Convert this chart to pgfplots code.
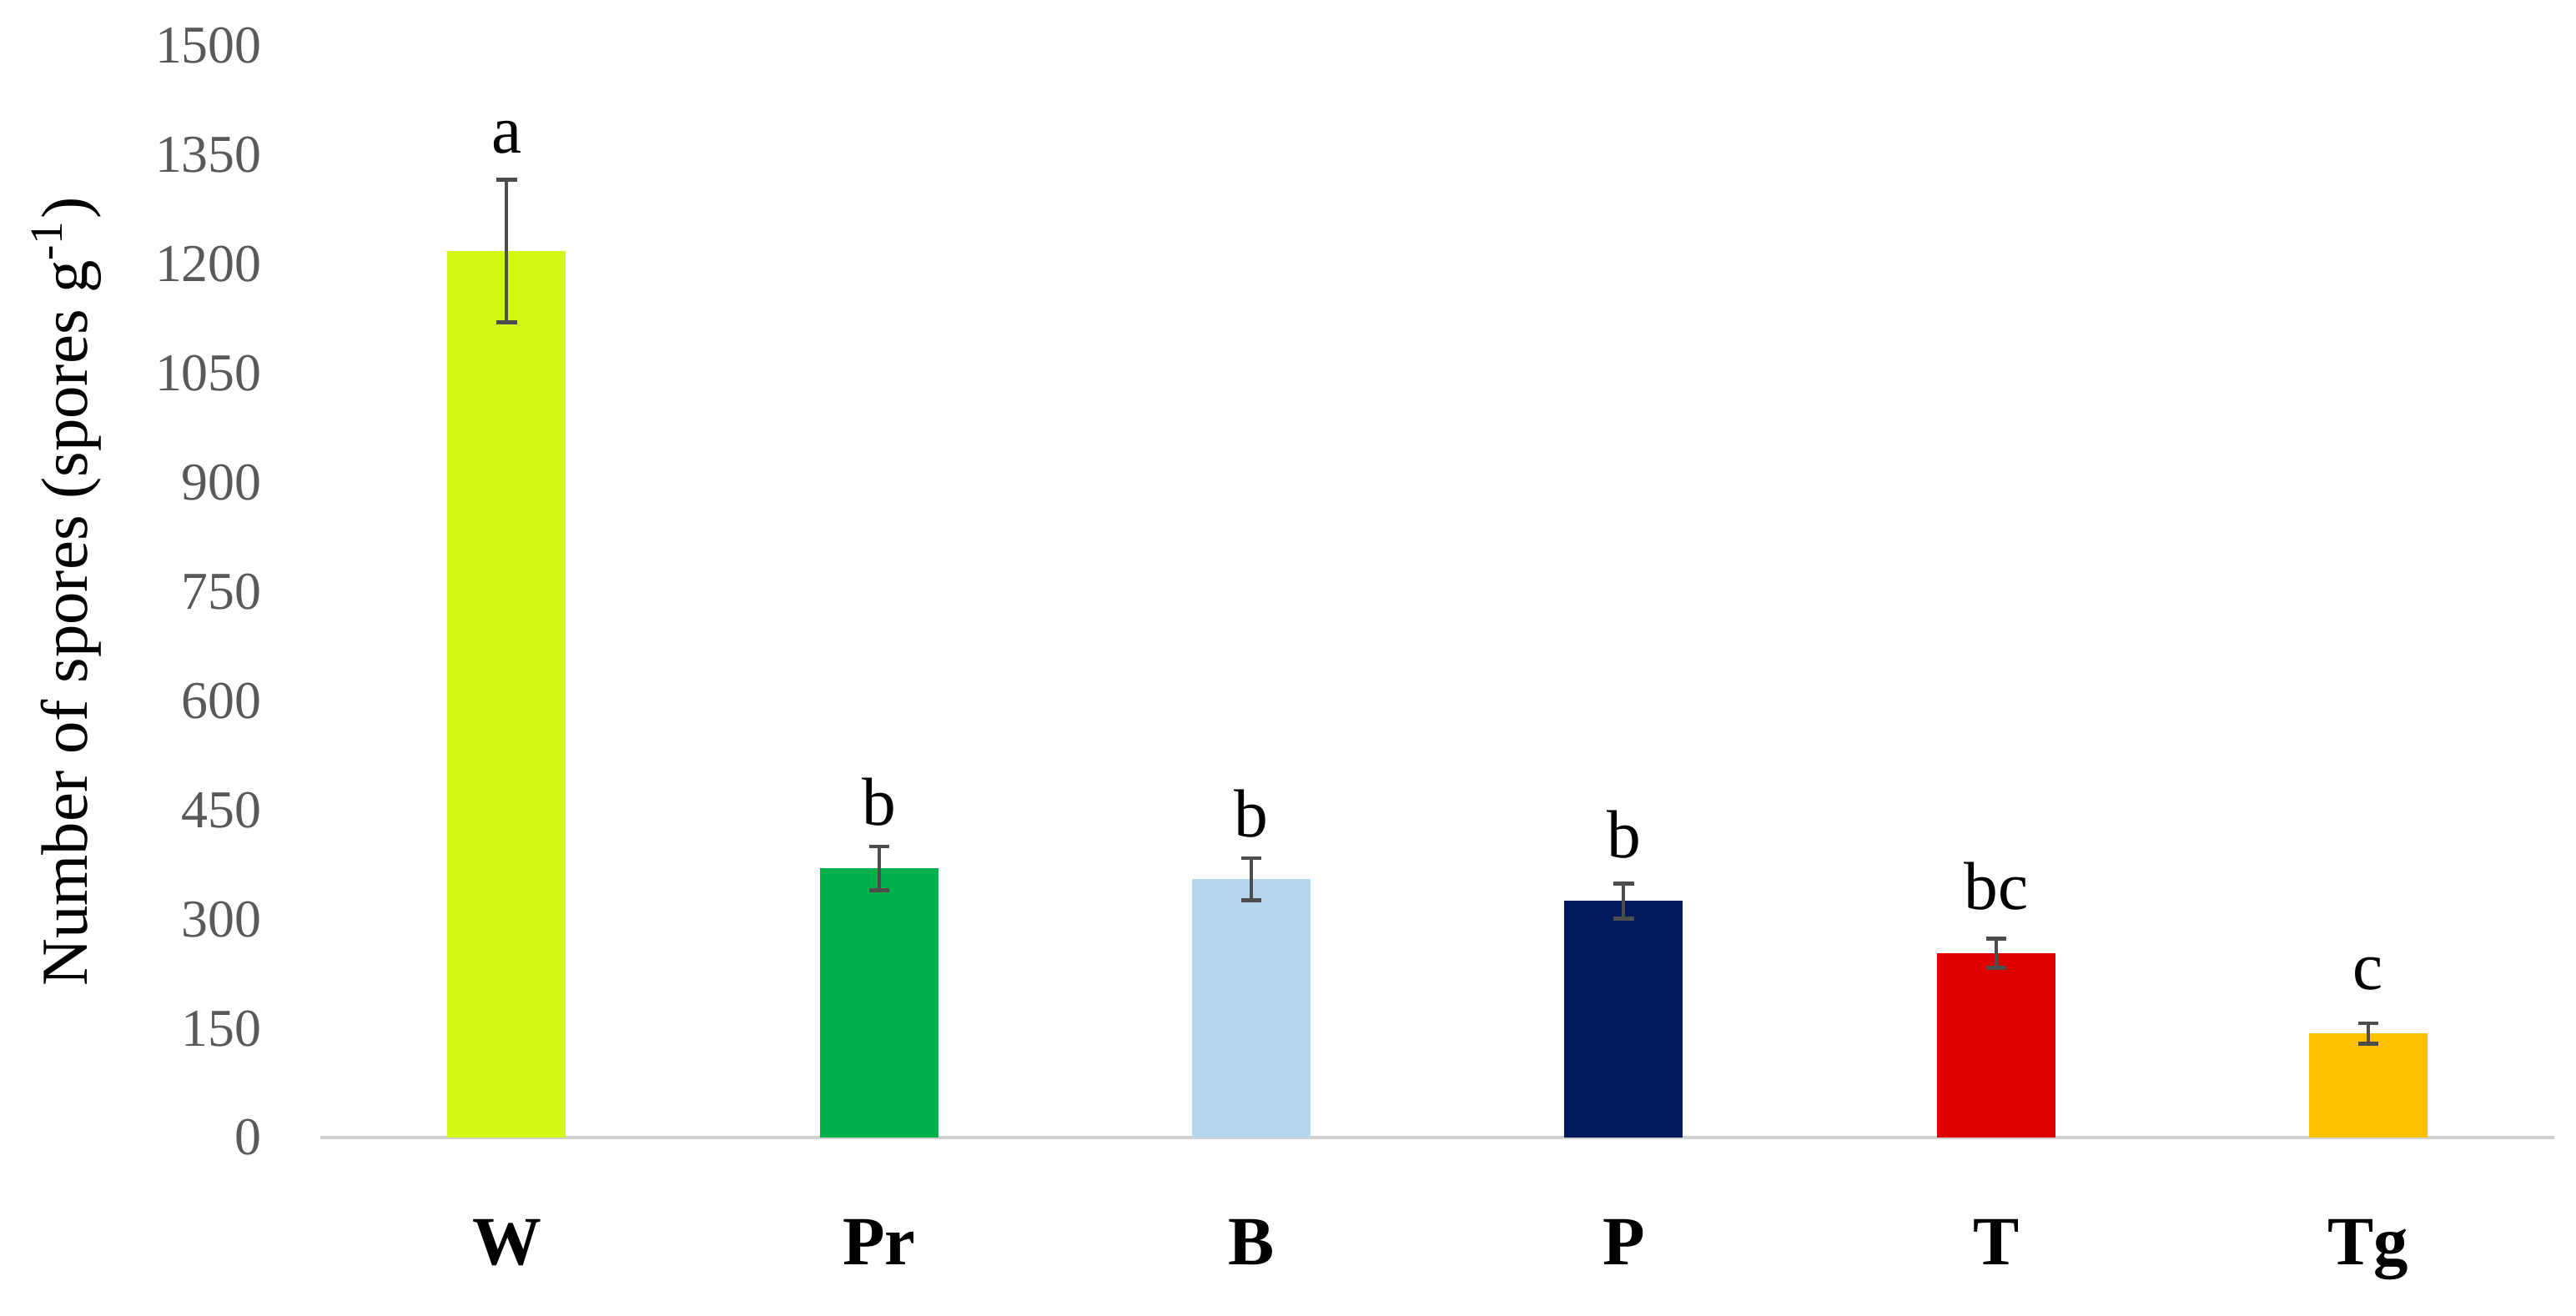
\documentclass[border=0pt]{standalone}
\usepackage{pgfplots}
\pgfplotsset{compat=1.18}
\usepackage{fontspec}
\setmainfont{Liberation Serif}
\definecolor{cW}{HTML}{D4F815}
\definecolor{cPr}{HTML}{00B04A}
\definecolor{cB}{HTML}{B4D7EE}
\definecolor{cP}{HTML}{001A5E}
\definecolor{cT}{HTML}{E00000}
\definecolor{cTg}{HTML}{FFC000}
\definecolor{ebar}{HTML}{4D4D4D}
\definecolor{tickgray}{HTML}{595959}
\definecolor{axgray}{HTML}{D0D0D0}
\pgfplotsset{
  sbar/.style={ybar, bar width=0.318, bar shift=0pt, draw=none, fill=#1,
    error bars/.cd, y dir=both, y explicit,
    error bar style={color=ebar, line width=0.6pt},
    error mark options={rotate=90, mark size=1.8pt, line width=0.7pt, color=ebar}},
}
\begin{document}
\begin{tikzpicture}
\begin{axis}[
  name=ax, scale only axis, width=394.4pt, height=192.8pt,
  xmin=-0.5, xmax=5.5, ymin=0, ymax=1500,
  axis x line*=bottom, axis y line*=left,
  y axis line style={draw=none},
  x axis line style={draw=axgray, line width=0.6pt, -},
  major tick length=0pt,
  ytick={0,150,...,1500},
  xtick={0,...,5}, xticklabels={W,Pr,B,P,T,Tg},
  /pgf/number format/assume math mode=true,
  /pgf/number format/1000 sep={},
  yticklabel style={font=\fontsize{9.4}{11}\selectfont, color=tickgray, anchor=east, inner sep=0pt, xshift=-10.2pt},
  xticklabel style={font=\fontsize{12.2}{14}\selectfont\bfseries, anchor=base, yshift=-22.4pt},
  ylabel={Number of spores (spores g\textsuperscript{-1})},
  ylabel style={font=\fontsize{11.6}{13}\selectfont, at={(axis description cs:-0.1138,0.5)}, anchor=center},
]
\addplot[sbar=cW]  coordinates {(0,1218) +- (0,98)};
\addplot[sbar=cPr] coordinates {(1,370) +- (0,30)};
\addplot[sbar=cB]  coordinates {(2,355) +- (0,29)};
\addplot[sbar=cP]  coordinates {(3,325) +- (0,24)};
\addplot[sbar=cT]  coordinates {(4,253) +- (0,20)};
\addplot[sbar=cTg] coordinates {(5,143) +- (0,14)};
\begin{scope}[every node/.style={anchor=base, inner sep=0pt, font=\fontsize{12}{14}\selectfont}]
\node at (axis cs:0,1353) {a};
\node at (axis cs:1,429) {b};
\node at (axis cs:2,413) {b};
\node at (axis cs:3,384) {b};
\node at (axis cs:4,314) {bc};
\node at (axis cs:5,203) {c};
\end{scope}
\end{axis}
\pgfresetboundingbox
\path ([shift={(-56.6pt,-31.4pt)}]ax.south west) rectangle ([shift={(3.8pt,8.1pt)}]ax.north east);
\end{tikzpicture}
\end{document}
